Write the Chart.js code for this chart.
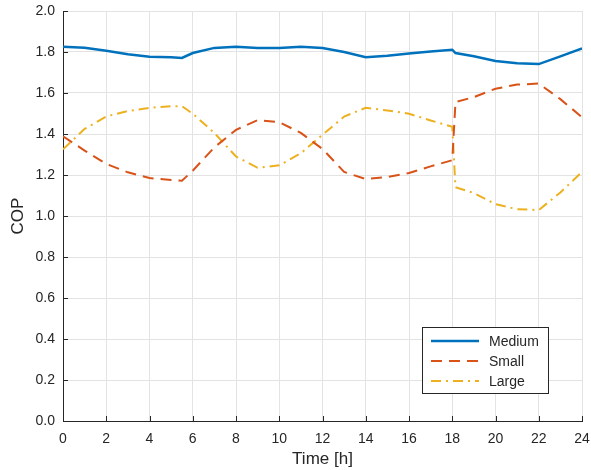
<!DOCTYPE html>
<html>
<head>
<meta charset="utf-8">
<script src="https://cdn.jsdelivr.net/npm/chart.js@4.4.1/dist/chart.umd.min.js"></script>
<style>
    html, body { margin: 0; padding: 0; background: #fff; }
    #wrap { width: 591px; height: 470px; position: relative; }
</style>
</head>
<body>
<div id="wrap"><canvas id="copChart"></canvas></div>
<script>
// --- données ---
const times  = [0, 1, 2, 3, 4, 5, 5.5, 6, 7, 8, 9, 10, 11, 12, 13, 14, 15, 16, 17, 18, 18.15, 19, 20, 21, 22, 23, 24];
const medium = [1.826, 1.821, 1.806, 1.789, 1.777, 1.774, 1.771, 1.795, 1.820, 1.826, 1.820, 1.820, 1.826, 1.820, 1.800, 1.774, 1.782, 1.793, 1.803, 1.811, 1.795, 1.779, 1.756, 1.745, 1.741, 1.779, 1.818];
const small  = [1.389, 1.319, 1.254, 1.213, 1.185, 1.176, 1.172, 1.221, 1.335, 1.420, 1.468, 1.458, 1.405, 1.327, 1.215, 1.180, 1.190, 1.210, 1.242, 1.272, 1.556, 1.580, 1.621, 1.641, 1.646, 1.570, 1.482];
const large  = [1.325, 1.425, 1.486, 1.512, 1.528, 1.535, 1.536, 1.499, 1.405, 1.290, 1.235, 1.247, 1.306, 1.396, 1.485, 1.528, 1.515, 1.499, 1.466, 1.435, 1.140, 1.112, 1.058, 1.033, 1.029, 1.115, 1.215];
const seriesNames = ['Medium', 'Small', 'Large'];
const xTicks = [0, 2, 4, 6, 8, 10, 12, 14, 16, 18, 20, 22, 24];
const yTicks = [0, 0.2, 0.4, 0.6, 0.8, 1.0, 1.2, 1.4, 1.6, 1.8, 2.0];

const FONT = "'Liberation Sans', Arial, Helvetica, sans-serif";
const AXIS = '#262626';
const GRID = '#e3e3e3';

const toPts = vals => vals.map((v, i) => ({ x: times[i], y: v }));

// petits traits de graduation vers l'intérieur (style MATLAB)
const inwardTicks = {
    id: 'inwardTicks',
    afterDraw(chart) {
        const ctx = chart.ctx, a = chart.chartArea;
        ctx.save();
        ctx.strokeStyle = AXIS;
        ctx.lineWidth = 1;
        ctx.beginPath();
        chart.scales.x.ticks.forEach(t => {
            const px = Math.round(chart.scales.x.getPixelForValue(t.value)) + 0.5;
            ctx.moveTo(px, a.bottom);
            ctx.lineTo(px, a.bottom - 5);
        });
        chart.scales.y.ticks.forEach(t => {
            const py = Math.round(chart.scales.y.getPixelForValue(t.value)) + 0.5;
            ctx.moveTo(a.left, py);
            ctx.lineTo(a.left + 5, py);
        });
        ctx.stroke();
        ctx.restore();
    }
};

// légende dans un cadre en bas à droite
const boxLegend = {
    id: 'boxLegend',
    afterDraw(chart) {
        const ctx = chart.ctx, a = chart.chartArea;
        const w = 126, h = 66;
        const x0 = Math.round(a.right - 34 - w), y0 = Math.round(a.bottom - 28 - h);
        ctx.save();
        ctx.fillStyle = '#fff';
        ctx.fillRect(x0, y0, w, h);
        ctx.strokeStyle = AXIS;
        ctx.lineWidth = 1;
        ctx.strokeRect(x0 + 0.5, y0 + 0.5, w, h);
        ctx.font = '14px ' + FONT;
        ctx.textBaseline = 'middle';
        chart.data.datasets.forEach((ds, i) => {
            const yy = y0 + 14 + i * 20;
            ctx.strokeStyle = ds.borderColor;
            ctx.lineWidth = ds.borderWidth;
            ctx.setLineDash(ds.borderDash || []);
            ctx.beginPath();
            ctx.moveTo(x0 + 9, yy);
            ctx.lineTo(x0 + 57, yy);
            ctx.stroke();
            ctx.setLineDash([]);
            ctx.fillStyle = AXIS;
            ctx.fillText(ds.label, x0 + 67, yy + 1);
        });
        ctx.restore();
    }
};

const ctx = document.getElementById('copChart').getContext('2d');
new Chart(ctx, {
    type: 'line',
    data: {
        datasets: [
            { label: seriesNames[0], data: toPts(medium), borderColor: '#0072BD', borderWidth: 2.5 },
            { label: seriesNames[1], data: toPts(small), borderColor: '#D95319', borderWidth: 2, borderDash: [11, 7] },
            { label: seriesNames[2], data: toPts(large), borderColor: '#EDB120', borderWidth: 2, borderDash: [10, 5, 2, 5] }
        ]
    },
    options: {
        responsive: true,
        maintainAspectRatio: false,
        animation: false,
        events: [],
        elements: { point: { radius: 0 }, line: { tension: 0, fill: false } },
        layout: { padding: { top: 11, right: 9, left: 0, bottom: 0 } },
        plugins: { legend: { display: false }, tooltip: { enabled: false } },
        scales: {
            x: {
                type: 'linear', min: 0, max: 24,
                afterBuildTicks: s => { s.ticks = xTicks.map(v => ({ value: v })); },
                afterFit: s => { s.height = 49; s.paddingLeft = 0; s.paddingRight = 0; },
                grid: { color: GRID, drawTicks: false },
                border: { color: AXIS, width: 1 },
                ticks: { color: AXIS, font: { family: FONT, size: 14 }, padding: 10, maxRotation: 0 },
                title: { display: true, text: 'Time [h]', color: AXIS, font: { family: FONT, size: 17 }, padding: { top: 0, bottom: 0 } }
            },
            y: {
                min: 0, max: 2,
                afterBuildTicks: s => { s.ticks = yTicks.map(v => ({ value: v })); },
                afterFit: s => { s.width = 63; s.paddingTop = 0; s.paddingBottom = 0; },
                grid: { color: GRID, drawTicks: false },
                border: { color: AXIS, width: 1 },
                ticks: { color: AXIS, font: { family: FONT, size: 14 }, padding: 8, callback: v => v.toFixed(1) },
                title: { display: true, text: 'COP', color: AXIS, font: { family: FONT, size: 17 }, padding: { top: 8, bottom: 0 } }
            }
        }
    },
    plugins: [inwardTicks, boxLegend]
});
</script>
</body>
</html>
